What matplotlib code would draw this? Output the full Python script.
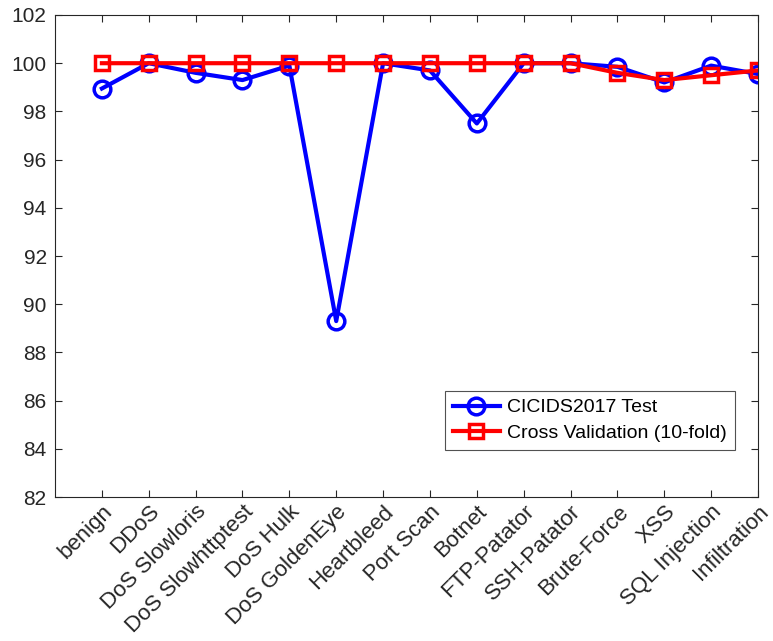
import matplotlib
matplotlib.use("Agg")
import matplotlib.pyplot as plt

# Attack classes on the x axis
categories = ["benign", "DDoS", "DoS Slowloris", "DoS Slowhttptest",
              "DoS Hulk", "DoS GoldenEye", "Heartbleed", "Port Scan",
              "Botnet", "FTP-Patator", "SSH-Patator", "Brute-Force",
              "XSS", "SQL Injection", "Infiltration"]

# Accuracy (%) per class
test_acc = [98.95, 100.0, 99.6, 99.3, 99.9, 89.3, 100.0, 99.7,
            97.5, 100.0, 100.0, 99.85, 99.2, 99.9, 99.55]
cv_acc = [100.0, 100.0, 100.0, 100.0, 100.0, 100.0, 100.0, 100.0,
          100.0, 100.0, 100.0, 99.6, 99.3, 99.5, 99.7]

y_ticks = [82, 84, 86, 88, 90, 92, 94, 96, 98, 100, 102]

plt.rcParams["font.family"] = ["Liberation Sans", "DejaVu Sans"]

fig = plt.figure(figsize=(7.73, 6.41), dpi=100)
ax = fig.add_axes([0.0712, 0.2246, 0.9094, 0.752])

x = list(range(1, len(categories) + 1))
ax.plot(x, test_acc, color="blue", linewidth=3, marker="o",
        markersize=12, markerfacecolor="none", markeredgewidth=2.5,
        label="CICIDS2017 Test")
ax.plot(x, cv_acc, color="red", linewidth=3, marker="s",
        markersize=10, markerfacecolor="none", markeredgewidth=2.5,
        label="Cross Validation (10-fold)")

ax.set_xlim(0, 15)
ax.set_ylim(82, 102)
ax.set_yticks(y_ticks)
ax.set_xticks(x)
ax.set_xticklabels(categories, rotation=45, ha="right",
                   rotation_mode="anchor", va="top", fontsize=16)

edge = (0.15, 0.15, 0.15)
for spine in ax.spines.values():
    spine.set_color(edge)
    spine.set_linewidth(0.8)
ax.tick_params(direction="in", length=5, width=0.8, color=edge,
               labelcolor=edge, top=True, right=True)
ax.tick_params(axis="y", labelsize=15, pad=6)
ax.tick_params(axis="x", pad=3)

leg = ax.legend(loc="lower right", bbox_to_anchor=(0.967, 0.0975),
                fontsize=14, frameon=True, fancybox=False,
                edgecolor=edge, handlelength=2.4, borderpad=0.4,
                labelspacing=0.42, handletextpad=0.4, borderaxespad=0)
leg.get_frame().set_linewidth(0.8)

fig.savefig("out.png", dpi=100)
